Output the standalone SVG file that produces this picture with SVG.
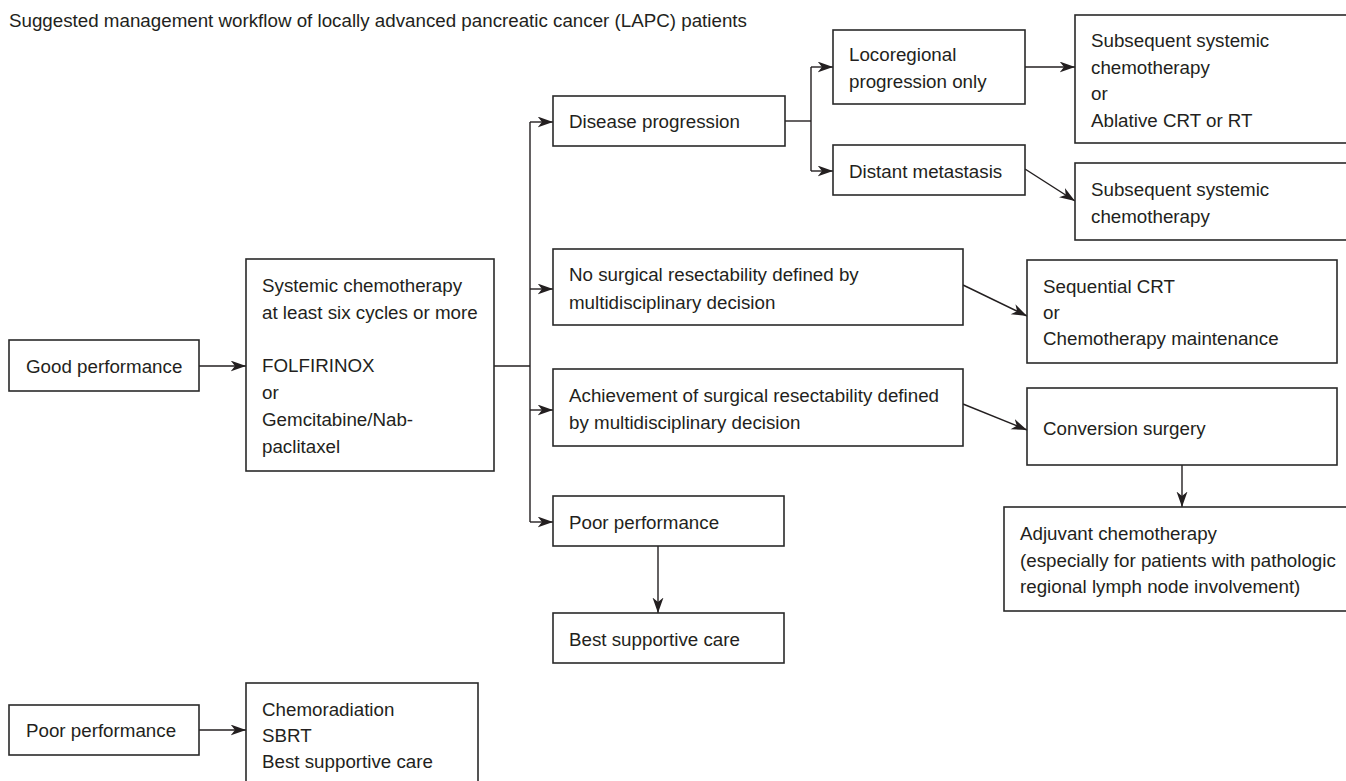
<svg xmlns="http://www.w3.org/2000/svg" width="1346" height="781" viewBox="0 0 1346 781">
<defs>
<style>
.bg{fill:#ffffff}
.box{fill:#ffffff;stroke:#2a2a2a;stroke-width:1.6}
.t{font-family:"Liberation Sans",Arial,Helvetica,sans-serif;font-size:18.75px;fill:#231f20}
.c{fill:none;stroke:#231f20;stroke-width:1.4}
.a{marker-end:url(#arr)}
</style>
<marker id="arr" markerUnits="userSpaceOnUse" markerWidth="16" markerHeight="12" refX="15.5" refY="5.5" orient="auto">
<path d="M0,0 L15.5,5.5 L0,11 L4.5,5.5 Z" fill="#231f20"/>
</marker>
</defs>
<rect class="bg" x="0" y="0" width="1346" height="781"/>
<text class="t" x="9" y="27">Suggested management workflow of locally advanced pancreatic cancer (LAPC) patients</text>

<g id="connectors">
<line class="c a" x1="199" y1="366" x2="246" y2="366"/>
<polyline class="c" points="494,366 530,366"/>
<line class="c" x1="530" y1="122" x2="530" y2="522"/>
<line class="c a" x1="530" y1="122" x2="553" y2="122"/>
<line class="c a" x1="530" y1="289" x2="553" y2="289"/>
<line class="c a" x1="530" y1="410" x2="553" y2="410"/>
<line class="c a" x1="530" y1="522" x2="553" y2="522"/>
<line class="c" x1="785" y1="121" x2="811" y2="121"/>
<line class="c" x1="811" y1="67" x2="811" y2="171"/>
<line class="c a" x1="811" y1="67" x2="833" y2="67"/>
<line class="c a" x1="811" y1="171" x2="833" y2="171"/>
<line class="c a" x1="1025" y1="67" x2="1075" y2="67"/>
<line class="c a" x1="1025" y1="169" x2="1075" y2="201"/>
<line class="c a" x1="963" y1="285" x2="1027" y2="316"/>
<line class="c a" x1="963" y1="404" x2="1027" y2="430"/>
<line class="c a" x1="1182" y1="465" x2="1182" y2="507"/>
<line class="c a" x1="658" y1="546" x2="658" y2="613"/>
<line class="c a" x1="199" y1="730" x2="246" y2="730"/>
</g>

<g id="good-performance">
<rect class="box" x="9" y="340" width="190" height="51"/>
<text class="t" x="26" y="373">Good performance</text>
</g>
<g id="systemic-chemotherapy">
<rect class="box" x="246" y="259" width="248" height="212"/>
<text class="t" x="262" y="292">Systemic chemotherapy</text>
<text class="t" x="262" y="319">at least six cycles or more</text>
<text class="t" x="262" y="372">FOLFIRINOX</text>
<text class="t" x="262" y="399">or</text>
<text class="t" x="262" y="426">Gemcitabine/Nab-</text>
<text class="t" x="262" y="453">paclitaxel</text>
</g>
<g id="disease-progression">
<rect class="box" x="553" y="96" width="232" height="50"/>
<text class="t" x="569" y="128">Disease progression</text>
</g>
<g id="locoregional">
<rect class="box" x="833" y="30" width="192" height="74"/>
<text class="t" x="849" y="61">Locoregional</text>
<text class="t" x="849" y="88">progression only</text>
</g>
<g id="distant-metastasis">
<rect class="box" x="833" y="145" width="192" height="50"/>
<text class="t" x="849" y="178">Distant metastasis</text>
</g>
<g id="subsequent-or-ablative">
<rect class="box" x="1075" y="15" width="290" height="128"/>
<text class="t" x="1091" y="47">Subsequent systemic</text>
<text class="t" x="1091" y="73.5">chemotherapy</text>
<text class="t" x="1091" y="100">or</text>
<text class="t" x="1091" y="126.5">Ablative CRT or RT</text>
</g>
<g id="subsequent-chemo">
<rect class="box" x="1075" y="163" width="290" height="77"/>
<text class="t" x="1091" y="196">Subsequent systemic</text>
<text class="t" x="1091" y="223">chemotherapy</text>
</g>
<g id="no-surgical">
<rect class="box" x="553" y="249" width="410" height="76"/>
<text class="t" x="569" y="281">No surgical resectability defined by</text>
<text class="t" x="569" y="308.5">multidisciplinary decision</text>
</g>
<g id="sequential-crt">
<rect class="box" x="1027" y="260" width="310" height="103"/>
<text class="t" x="1043" y="293">Sequential CRT</text>
<text class="t" x="1043" y="319">or</text>
<text class="t" x="1043" y="345">Chemotherapy maintenance</text>
</g>
<g id="achievement">
<rect class="box" x="553" y="369" width="410" height="77"/>
<text class="t" x="569" y="402">Achievement of surgical resectability defined</text>
<text class="t" x="569" y="429">by multidisciplinary decision</text>
</g>
<g id="conversion-surgery">
<rect class="box" x="1027" y="388" width="310" height="77"/>
<text class="t" x="1043" y="435">Conversion surgery</text>
</g>
<g id="adjuvant">
<rect class="box" x="1004" y="507" width="360" height="104"/>
<text class="t" x="1020" y="540">Adjuvant chemotherapy</text>
<text class="t" x="1020" y="566.5">(especially for patients with pathologic</text>
<text class="t" x="1020" y="593">regional lymph node involvement)</text>
</g>
<g id="poor-performance-mid">
<rect class="box" x="553" y="496" width="231" height="50"/>
<text class="t" x="569" y="529">Poor performance</text>
</g>
<g id="best-supportive-care">
<rect class="box" x="553" y="613" width="231" height="50"/>
<text class="t" x="569" y="646">Best supportive care</text>
</g>
<g id="poor-performance-bottom">
<rect class="box" x="9" y="705" width="190" height="50"/>
<text class="t" x="26" y="737">Poor performance</text>
</g>
<g id="chemoradiation">
<rect class="box" x="246" y="683" width="232" height="120"/>
<text class="t" x="262" y="716">Chemoradiation</text>
<text class="t" x="262" y="742">SBRT</text>
<text class="t" x="262" y="768">Best supportive care</text>
</g>
</svg>
